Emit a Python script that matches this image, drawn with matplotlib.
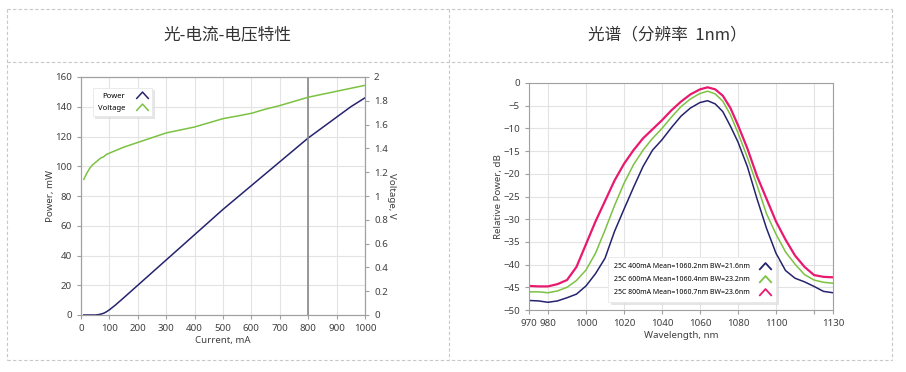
import matplotlib
matplotlib.use('Agg')
import matplotlib.pyplot as plt
from matplotlib.lines import Line2D
from matplotlib.path import Path

plt.rcParams['font.family'] = ['Noto Sans', 'Noto Sans CJK SC', 'DejaVu Sans']
plt.rcParams['font.size'] = 7

# L-I-V data
current = [10, 20, 30, 40, 50, 60, 70, 80, 90, 100, 120, 150, 200, 250, 300, 350, 400,
           450, 500, 550, 600, 650, 700, 750, 800, 850, 900, 950, 1000]
power = [0, 0, 0, 0, 0, 0.2, 0.6, 1.2, 2.2, 3.5, 6.5, 11.5, 20, 28.5, 37, 45.5, 54,
         62.5, 71, 79, 87, 95, 103, 111, 119, 126, 133, 140, 146]
voltage = [1.14, 1.19, 1.23, 1.26, 1.28, 1.30, 1.32, 1.33, 1.35, 1.36, 1.38, 1.41, 1.45,
           1.49, 1.53, 1.555, 1.58, 1.615, 1.65, 1.672, 1.695, 1.73, 1.76, 1.795, 1.83,
           1.855, 1.88, 1.905, 1.93]

# spectrum data
wavelength = [970, 975, 980, 985, 990, 995, 1000, 1005, 1010, 1015, 1020, 1025, 1030,
              1035, 1040, 1045, 1050, 1055, 1060, 1064, 1068, 1072, 1076, 1080, 1085,
              1090, 1095, 1100, 1105, 1110, 1115, 1120, 1125, 1130]
spec_400 = [-47.9, -48.0, -48.3, -48.0, -47.3, -46.5, -44.7, -42.0, -38.6, -32.7, -27.8,
            -23.0, -18.4, -14.8, -12.5, -9.8, -7.3, -5.5, -4.3, -3.9, -4.6, -6.3, -9.5,
            -13.0, -18.5, -25.5, -32.0, -37.5, -41.3, -43.0, -43.8, -44.8, -45.9, -46.2]
spec_600 = [-46.0, -46.0, -46.2, -45.8, -45.0, -43.5, -41.2, -37.5, -32.4, -27.0, -22.1,
            -18.0, -14.8, -12.2, -10.0, -7.5, -5.2, -3.5, -2.3, -1.8, -2.4, -4.0, -7.0,
            -11.0, -16.5, -22.5, -28.8, -33.3, -37.2, -39.9, -42.2, -43.4, -43.9, -44.1]
spec_800 = [-44.7, -44.8, -44.8, -44.3, -43.4, -40.5, -35.5, -30.5, -26.0, -21.5, -17.8,
            -14.8, -12.2, -10.2, -8.2, -6.0, -4.1, -2.5, -1.4, -0.95, -1.4, -2.8, -5.5,
            -9.3, -14.5, -20.5, -25.5, -30.5, -34.5, -38.0, -40.5, -42.3, -42.7, -42.8]
spec_labels = ['25C 400mA Mean=1060.2nm BW=21.6nm',
               '25C 600mA Mean=1060.4nm BW=23.2nm',
               '25C 800mA Mean=1060.7nm BW=23.6nm']

navy = '#25236e'
green = '#7cc242'
pink = '#e8196e'
grid_c = '#e3e3e3'
spine_c = '#a0a0a0'
text_c = '#404040'

chevron = Path([(-1, -0.55), (0, 0.55), (1, -0.55)],
               [Path.MOVETO, Path.LINETO, Path.LINETO])

W, H = 906, 372
fig = plt.figure(figsize=(W / 100, H / 100), dpi=100)


def px_axes(left, top, right, bottom):
    return fig.add_axes([left / W, 1 - bottom / H, (right - left) / W, (bottom - top) / H])


def style(ax):
    for s in ax.spines.values():
        s.set_color(spine_c)
        s.set_linewidth(0.8)
    ax.tick_params(colors=spine_c, labelcolor=text_c, labelsize=7, length=3, width=0.8)


# table borders
dash = dict(color='#c8c8c8', lw=0.8, linestyle=(0, (3, 2)), transform=fig.transFigure)
for y in [9, 62, 360]:
    fig.add_artist(Line2D([7 / W, 892 / W], [1 - y / H, 1 - y / H], **dash))
for x in [7, 449, 892]:
    fig.add_artist(Line2D([x / W, x / W], [1 - 9 / H, 1 - 360 / H], **dash))

fig.text(227 / W, 1 - 35 / H, '光-电流-电压特性', ha='center', va='center', fontsize=12,
         color='#333333', family=['Noto Sans CJK SC', 'DejaVu Sans'])
fig.text(667 / W, 1 - 35 / H, '光谱（分辨率  1nm）', ha='center', va='center', fontsize=12,
         color='#333333', family=['Noto Sans CJK SC', 'DejaVu Sans'])

shadow = {'color': '#dcdcdc', 'alpha': 0.7, 'ox': 1.5, 'oy': -1.5}

# ---- L-I-V chart
ax1 = px_axes(81, 77, 365, 315)
style(ax1)
ax1.grid(True, color=grid_c, lw=0.8)
ax1.set_axisbelow(True)
ax1.plot(current, power, color=navy, lw=1.1)
ax1.axvline(800, color='#888888', lw=1.2)
ax1.set_xlim(0, 1000)
ax1.set_ylim(0, 160)
ax1.set_xticks(range(0, 1001, 100))
ax1.set_yticks(range(0, 161, 20))
ax1.set_xlabel('Current, mA', color=text_c, fontsize=7, labelpad=2)
ax1.set_ylabel('Power, mW', color=text_c, fontsize=7, labelpad=0)

ax2 = ax1.twinx()
style(ax2)
ax2.plot(current, voltage, color=green, lw=1.1)
ax2.set_ylim(0, 2)
ax2.set_yticks([i / 10 for i in range(0, 21, 2)])
ax2.set_yticklabels(['0', '0.2', '0.4', '0.6', '0.8', '1', '1.2', '1.4', '1.6', '1.8', '2'])
ax2.set_ylabel('Voltage, V', color=text_c, fontsize=7, rotation=-90, labelpad=6)

h1 = [Line2D([], [], color=navy, marker=chevron, markersize=9, markerfacecolor='none',
             markeredgewidth=1.1, linestyle='none'),
      Line2D([], [], color=green, marker=chevron, markersize=9, markerfacecolor='none',
             markeredgewidth=1.1, linestyle='none')]
leg1 = ax2.legend(h1, ['Power', 'Voltage'], loc='upper left', bbox_to_anchor=(0.03, 0.97),
                  markerfirst=False, fontsize=5.5, frameon=True, fancybox=False,
                  shadow=shadow, borderpad=0.6, labelspacing=0.6,
                  handlelength=1.5, handletextpad=1.4)
leg1.get_frame().set_edgecolor('#e8e8e8')
leg1.get_frame().set_linewidth(0.6)

# ---- spectrum chart
ax3 = px_axes(529, 83, 833, 310)
style(ax3)
ax3.grid(True, color=grid_c, lw=0.8)
ax3.set_axisbelow(True)
ax3.plot(wavelength, spec_400, color=navy, lw=1.1)
ax3.plot(wavelength, spec_600, color=green, lw=1.1)
ax3.plot(wavelength, spec_800, color=pink, lw=1.6)
ax3.set_xlim(970, 1130)
ax3.set_ylim(-50, 0)
xt = [970, 980] + list(range(1000, 1121, 20)) + [1130]
ax3.set_xticks(xt)
ax3.set_xticklabels([str(v) if v != 1120 else '' for v in xt])
ax3.set_yticks(range(-50, 1, 5))
ax3.set_xlabel('Wavelength, nm', color=text_c, fontsize=7, labelpad=2)
ax3.set_ylabel('Relative Power, dB', color=text_c, fontsize=7, labelpad=0)

h3 = [Line2D([], [], color=c, marker=chevron, markersize=9, markerfacecolor='none',
             markeredgewidth=1.3, linestyle='none') for c in [navy, green, pink]]
leg3 = ax3.legend(h3, spec_labels, loc='lower left', bbox_to_anchor=(0.25, 0.02),
                  markerfirst=False, fontsize=5, frameon=True, fancybox=False,
                  shadow=shadow, borderpad=0.8, labelspacing=0.9,
                  handlelength=1.5, handletextpad=1.4)
leg3.get_frame().set_edgecolor('#e8e8e8')
leg3.get_frame().set_linewidth(0.6)

fig.savefig('out.png', dpi=100)
